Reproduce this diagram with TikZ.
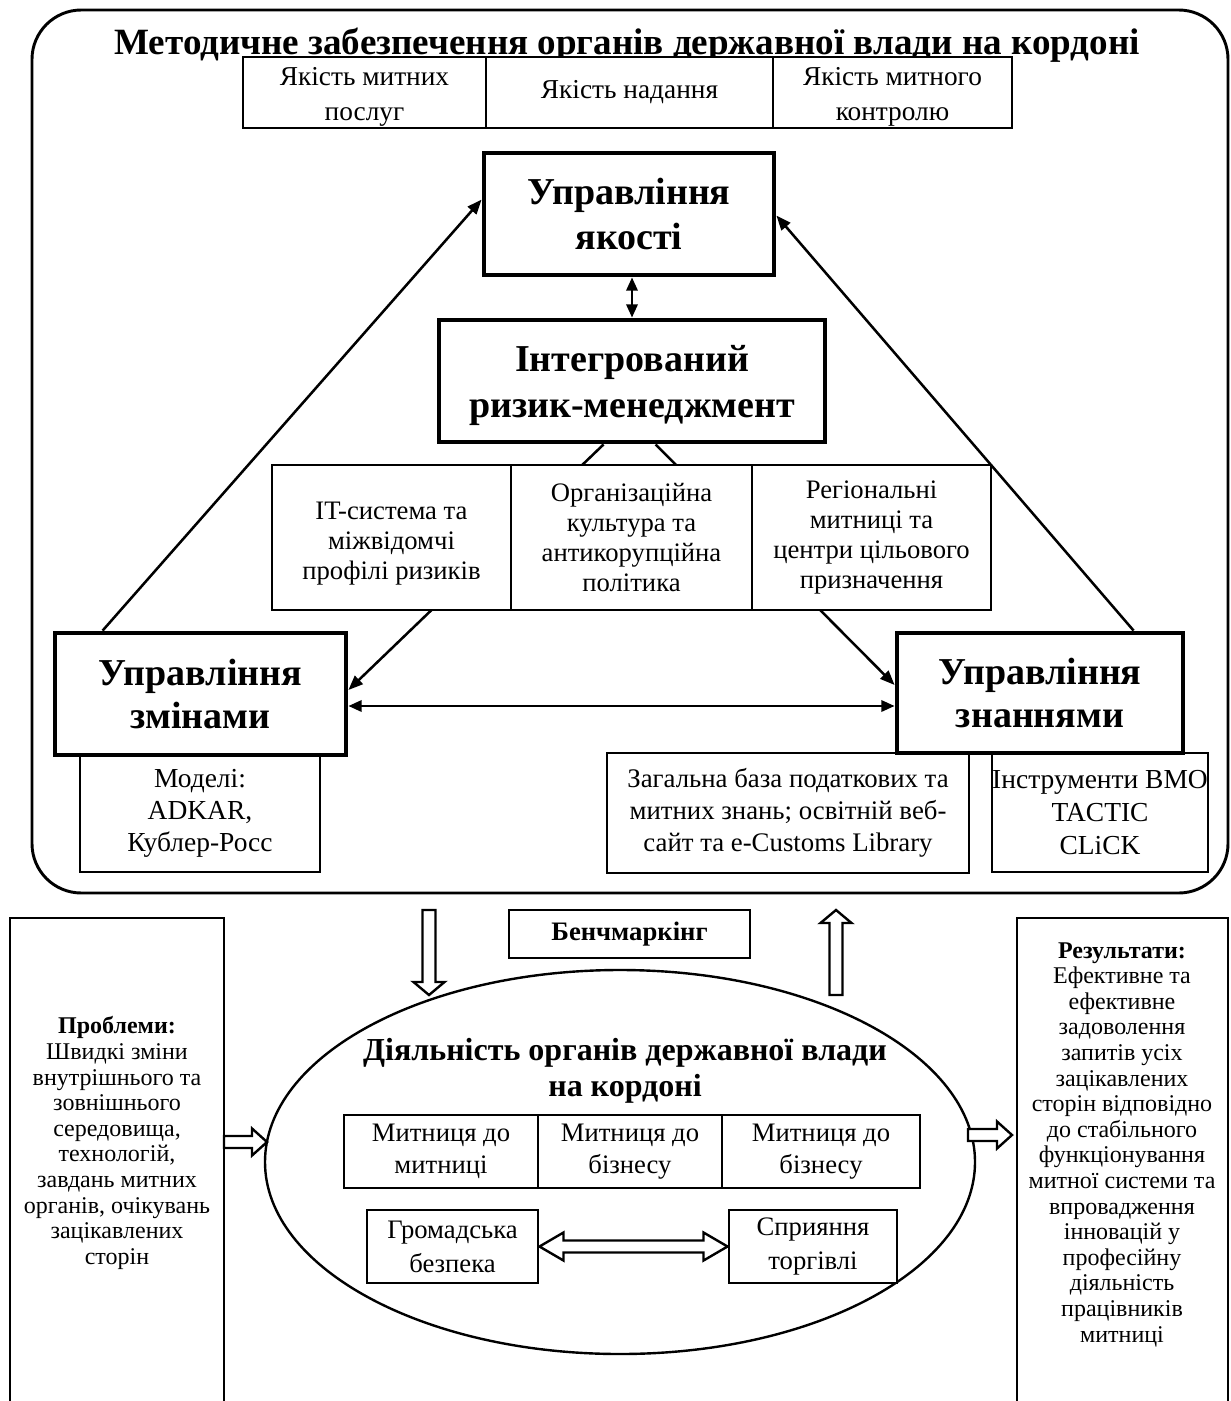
\documentclass[tikz,border=0pt]{standalone}
\usepackage{fontspec}
\setmainfont{Liberation Serif}
\usetikzlibrary{arrows.meta,shapes.geometric,calc}
\newcommand\hollowarrow[6]{\draw[hollow, shift={(#1)}, rotate=#2] (0,-#6) -- ({#3-#4},-#6) -- ({#3-#4},-#5) -- (#3,0) -- ({#3-#4},#5) -- ({#3-#4},#6) -- (0,#6) -- cycle;}
\tikzset{
  wh/.style 2 args={minimum width={#1*0.75pt}, minimum height={#2*0.75pt}},
  fs/.style 2 args={font=\fontsize{#1}{#2}\selectfont},
  cellbox/.style={draw, line width=2.2pt, fill=white, inner sep=0pt, align=center},
  thinbox/.style={draw, line width=1.6pt, fill=white, inner sep=0pt, align=center},
  mainbox/.style={draw, line width=3.6pt, fill=white, inner sep=0pt, align=center, font=\fontsize{28.5}{#1}\selectfont\bfseries},
  mainbox/.default=34,
  inlabel/.style={align=center, inner sep=0pt},
  sidebox/.style={draw, line width=2pt, inner sep=0pt},
  sidetext/.style={align=center, inner sep=0pt, font=\fontsize{18}{19.2}\selectfont},
  conn/.style={line width=1.9pt, -{Triangle[length=11pt,width=8.5pt]}},
  dconn/.style={line width=1.9pt, {Triangle[length=10pt,width=8.5pt]}-{Triangle[length=10pt,width=8.5pt]}},
  hollow/.style={line width=1.8pt, fill=white, line join=miter},
}
\begin{document}
\begin{tikzpicture}[x=0.75pt, y=-0.75pt]
\useasboundingbox (0,0) rectangle (1230,1401);
\clip (0,0) rectangle (1230,1401);
\fill[white] (0,0) rectangle (1230,1401);

% outer frame
\node[draw, line width=2.2pt, rounded corners=37pt, wh={1196}{883}] (outer) at (630,451.5) {};
\node[anchor=base, inner sep=0pt, font=\fontsize{27.8}{32}\selectfont\bfseries] (title) at (627,55) {Методичне забезпечення органів державної влади на кордоні};

% top row
\node[cellbox, wh={243}{71}, label={[inlabel, fs={20.5}{26.5}, yshift=-3.4pt]center:{Якість митних\\послуг}}] (q1) at (364.5,92.5) {};
\node[cellbox, fs={20.5}{26.5}, wh={287}{71}] (q2) at (629.5,92.5) {Якість надання};
\node[cellbox, wh={239}{71}, label={[inlabel, fs={20.5}{26.5}, yshift=-3.4pt]center:{Якість митного\\контролю}}] (q3) at (892.5,92.5) {};

% main nodes
\node[mainbox=34, wh={290}{122}] (quality) at (629,214) {Управління\\якості};
\node[mainbox=35, wh={386}{122}, label={[inlabel, font=\fontsize{28.5}{35}\selectfont\bfseries, yshift=-3.4pt]center:{Інтегрований\\ризик-менеджмент}}] (risk) at (632,381) {};

% lower boxes
\node[thinbox, fs={20.6}{24}, wh={240}{117}] (models) at (200,813.5) {Моделі:\\ADKAR,\\Кублер-Росс};
\node[thinbox, fs={20.1}{24}, wh={362}{120}] (base) at (788,813) {Загальна база податкових та\\митних знань; освітній веб-\\сайт та e-Customs Library};
\node[thinbox, fs={20.6}{25}, wh={216}{119}] (tools) at (1100,812.5) {Інструменти ВМО\\TACTIC\\CLiCK};

\node[mainbox=32, wh={291}{122}] (change) at (200.5,694) {Управління\\змінами};
\node[mainbox=32, wh={286}{120}] (knowledge) at (1040,693) {Управління\\знаннями};

% hidden lines behind middle row
\draw[conn] ($(risk.south west)+(167,0)$) -- ($(change.east)+(0,-4)$);
\draw[conn] ($(risk.south west)+(219,0)$) -- ($(knowledge.west)+(0,-8)$);

% middle row
\node[cellbox, wh={239}{145}, label={[inlabel, fs={20}{22.5}, yshift=-4.5pt]center:{IT-система та\\міжвідомчі\\профілі ризиків}}] (m1) at (391.5,537.5) {};
\node[cellbox, fs={20}{22.5}, wh={241}{145}] (m2) at (631.5,537.5) {Організаційна\\культура та\\антикорупційна\\політика};
\node[cellbox, fs={20}{22.5}, wh={239}{145}] (m3) at (871.5,537.5) {Регіональні\\митниці та\\центри цільового\\призначення};

% arrows
\draw[dconn] (risk.north) -- (quality.south -| risk.north);
\draw[conn] ($(change.north west)+(50,0)$) -- ($(quality.north west)+(0,49)$);
\draw[conn] ($(knowledge.north west)+(239,0)$) -- ($(quality.north east)+(0,65)$);
\draw[dconn] ($(change.east)+(0,12)$) -- ($(knowledge.west)+(0,13)$);

% bottom part
\node[draw, line width=2pt, fill=white, inner sep=0pt, wh={241}{48}, font=\fontsize{20}{24}\selectfont\bfseries] (bench) at (629.5,934) {Бенчмаркінг};

\node[sidebox, wh={214}{502}] (probbox) at (117,1169) {};
\node[sidetext] (probtext) at (117,1143) {\textbf{Проблеми:}\\Швидкі зміни\\внутрішнього та\\зовнішнього\\середовища,\\технологій,\\завдань митних\\органів, очікувань\\зацікавлених\\сторін};

\node[sidebox, wh={211}{502}] (resbox) at (1122.5,1169) {};
\node[sidetext] (restext) at (1122,1144.5) {\textbf{Результати:}\\Ефективне та\\ефективне\\задоволення\\запитів усіх\\зацікавлених\\сторін відповідно\\до стабільного\\функціонування\\митної системи та\\впровадження\\інновацій у\\професійну\\діяльність\\працівників\\митниці};

\node[draw, ellipse, line width=1.8pt, inner sep=0pt, wh={710}{384}] (ell) at (620,1162) {};
\node[align=center, inner sep=0pt, font=\fontsize{24}{27}\selectfont\bfseries] (elltitle) at (625,1071) {Діяльність органів державної влади\\на кордоні};

\node[cellbox, fs={20}{24}, wh={194}{73}] (r1) at (441,1151.5) {Митниця до\\митниці};
\node[cellbox, fs={20}{24}, wh={184}{73}] (r2) at (630,1151.5) {Митниця до\\бізнесу};
\node[cellbox, fs={20}{24}, wh={198}{73}] (r3) at (821,1151.5) {Митниця до\\бізнесу};

\node[cellbox, fs={20}{25.5}, wh={171}{73}] (gb) at (452.5,1246.5) {Громадська\\безпека};
\node[cellbox, fs={20}{25.5}, wh={168}{73}] (sp) at (813,1246.5) {Сприяння\\торгівлі};

% hollow arrows
\coordinate (dstart) at (429,910);
\coordinate (ustart) at (836,995);
\coordinate (pstart) at (224,1142);
\coordinate (rstart) at (968,1135);
\hollowarrow{dstart}{-90}{85}{13}{15.5}{6.5}
\hollowarrow{ustart}{90}{85}{13}{15.5}{6.5}
\hollowarrow{pstart}{0}{43}{15}{13.5}{6}
\hollowarrow{rstart}{0}{44}{15}{13.5}{6}
\draw[hollow] (gb.east) -- ++(24,-14) -- ++(0,8) -- ($(sp.west)+(-24,-6)$) -- ++(0,-8) -- (sp.west) -- ++(-24,14) -- ++(0,-8) -- ($(gb.east)+(24,6)$) -- ++(0,8) -- cycle;
\end{tikzpicture}
\end{document}
